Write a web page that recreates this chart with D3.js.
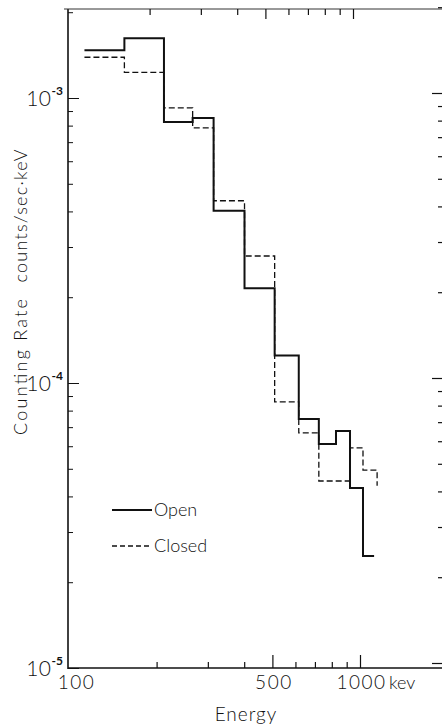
<!DOCTYPE html>
<html>
<head>
<meta charset="utf-8">
<script src="https://cdn.jsdelivr.net/npm/d3@7"></script>
<style>
  html, body { margin: 0; padding: 0; background: #fff; }
  svg { display: block; }
  text { font-family: Lato, "Open Sans", "DejaVu Sans", sans-serif; fill: #111; }
</style>
</head>
<body>
<svg id="chart" width="442" height="727"></svg>
<script>
// ---- data ----
const energyEdges = [113, 155, 212, 266, 314, 401, 509, 616, 722, 827, 924, 1024]; // keV, left edge of each bin
const openRate   = [1.47e-3, 1.62e-3, 8.24e-4, 8.51e-4, 4.02e-4, 2.15e-4, 1.25e-4, 7.48e-5, 6.11e-5, 6.79e-5, 4.28e-5, 2.47e-5];
const closedRate = [1.39e-3, 1.23e-3, 9.23e-4, 7.85e-4, 4.36e-4, 2.79e-4, 8.58e-5, 6.68e-5, 4.53e-5, 4.53e-5, 5.92e-5, 4.95e-5];
const openLastEdge = 1118;
const closedLastEdge = 1145;
const closedTailRate = 4.36e-5;
const xTickLabels = [100, 500, 1000];
const xMinorTicks = [200, 300, 400, 600, 700, 800, 900];
const xMajorTicks = [500, 1000];
const yDecades = [1e-5, 1e-4, 1e-3];
const yLabelExponents = ["-5", "-4", "-3"];
const seriesNames = ["Open", "Closed"];

// ---- layout ----
const svg = d3.select("#chart");
const X0 = 68, XR = 443, YT = 9, YB = 668;
const x = d3.scaleLog().domain([100, 1000]).range([69, 360]);
const y = d3.scaleLog().domain([1e-5, 1e-3]).range([668, 98]);

const yMinor = [];
yDecades.forEach(d => { for (let m = 2; m <= 9; m++) { const v = m * d; if (v <= 2.05e-3) yMinor.push(v); } });

function styleAxis(g, w) {
  g.select(".domain").remove();
  g.selectAll("line").attr("stroke", "#111").attr("stroke-width", w);
}

// frame lines
svg.append("line").attr("x1", X0).attr("x2", X0).attr("y1", YT).attr("y2", YB + 1)
  .attr("stroke", "#111").attr("stroke-width", 1.6);
svg.append("line").attr("x1", X0).attr("x2", 442).attr("y1", YB).attr("y2", YB)
  .attr("stroke", "#111").attr("stroke-width", 1.6);
svg.append("line").attr("x1", X0 - 4).attr("x2", 442).attr("y1", YT).attr("y2", YT)
  .attr("stroke", "#333").attr("stroke-width", 1);

// left ticks (inward)
svg.append("g").attr("transform", `translate(${X0},0)`)
  .call(d3.axisRight(y).tickValues(yMinor).tickSize(5).tickFormat(""))
  .call(g => styleAxis(g, 1));
svg.append("g").attr("transform", `translate(${X0},0)`)
  .call(d3.axisRight(y).tickValues(yDecades).tickSize(11).tickFormat(""))
  .call(g => styleAxis(g, 1));

// right ticks (inward, slightly shifted like the scan)
svg.append("g").attr("transform", `translate(${XR},-5)`)
  .call(d3.axisLeft(y).tickValues(yMinor.filter(v => String(v).indexOf("5") !== 0)).tickSize(5).tickFormat(""))
  .call(g => styleAxis(g, 1.2));
svg.append("g").attr("transform", `translate(${XR},-5)`)
  .call(d3.axisLeft(y).tickValues(yMinor.filter(v => String(v).indexOf("5") === 0)).tickSize(8).tickFormat(""))
  .call(g => styleAxis(g, 1.2));
svg.append("g").attr("transform", `translate(${XR},-5)`)
  .call(d3.axisLeft(y).tickValues(yDecades).tickSize(11).tickFormat(""))
  .call(g => styleAxis(g, 1.2));

// bottom ticks (inward)
svg.append("g").attr("transform", `translate(0,${YB})`)
  .call(d3.axisTop(x).tickValues(xMinorTicks).tickSize(6).tickFormat(""))
  .call(g => styleAxis(g, 1.2));
svg.append("g").attr("transform", `translate(0,${YB})`)
  .call(d3.axisTop(x).tickValues(xMajorTicks).tickSize(13).tickFormat(""))
  .call(g => styleAxis(g, 1.2));

// top ticks (inward, shifted like the scan)
svg.append("g").attr("transform", `translate(-7,${YT})`)
  .call(d3.axisBottom(x).tickValues(xMinorTicks).tickSize(6).tickFormat(""))
  .call(g => styleAxis(g, 1.2));
svg.append("g").attr("transform", `translate(-7,${YT})`)
  .call(d3.axisBottom(x).tickValues(xMajorTicks).tickSize(10).tickFormat(""))
  .call(g => styleAxis(g, 1.2));

// x tick labels
const xl = svg.append("g").attr("transform", `translate(0,${YB})`)
  .call(d3.axisBottom(x).tickValues(xTickLabels).tickSize(0).tickPadding(0).tickFormat(d3.format("d")));
xl.select(".domain").remove();
xl.selectAll("text")
  .attr("font-family", "Lato, 'Open Sans', sans-serif")
  .attr("font-size", 19).attr("font-weight", 300)
  .attr("letter-spacing", 1.5)
  .attr("fill", "#111")
  .attr("dy", 21)
  .attr("dx", d => d === 100 ? 7 : 1);
svg.append("text").attr("x", 389).attr("y", YB + 21)
  .attr("font-size", 18).attr("font-weight", 300).text("kev");

// y decade labels
yDecades.forEach((d, i) => {
  const t = svg.append("text")
    .attr("x", 63).attr("y", y(d) + 8)
    .attr("text-anchor", "end")
    .attr("font-size", 21).attr("font-weight", 300);
  t.append("tspan").text("10").attr("letter-spacing", 0.5);
  t.append("tspan").text(yLabelExponents[i]).attr("font-size", 12).attr("font-weight", 700).attr("dy", -11);
});

// axis titles
svg.append("text").attr("x", 246).attr("y", 721)
  .attr("text-anchor", "middle").attr("font-size", 19).attr("font-weight", 300)
  .attr("letter-spacing", 1).text("Energy");
svg.append("text").attr("transform", "translate(27,367) rotate(-90)")
  .attr("text-anchor", "middle").attr("font-size", 18).attr("font-weight", 300)
  .attr("textLength", 136).attr("lengthAdjust", "spacing")
  .text("Counting Rate");
svg.append("text").attr("transform", "translate(27,216) rotate(-90)")
  .attr("text-anchor", "middle").attr("font-size", 18).attr("font-weight", 300)
  .attr("textLength", 133).attr("lengthAdjust", "spacing")
  .text("counts/sec\u00b7keV");

// step histograms
const line = d3.line().x(d => x(d[0])).y(d => y(d[1])).curve(d3.curveStepAfter);
const openPts = energyEdges.map((e, i) => [e, openRate[i]]).concat([[openLastEdge, openRate[openRate.length - 1]]]);
const closedPts = energyEdges.map((e, i) => [e, closedRate[i]])
  .concat([[closedLastEdge, closedRate[closedRate.length - 1]], [closedLastEdge, closedTailRate]]);

svg.append("path").attr("d", line(closedPts)).attr("fill", "none")
  .attr("stroke", "#111").attr("stroke-width", 1.3).attr("stroke-dasharray", "6,3");
svg.append("path").attr("d", line(openPts)).attr("fill", "none")
  .attr("stroke", "#111").attr("stroke-width", 2);

// legend
const lg = svg.append("g");
lg.append("line").attr("x1", 112).attr("x2", 152).attr("y1", 510).attr("y2", 510)
  .attr("stroke", "#111").attr("stroke-width", 2);
lg.append("text").attr("x", 154).attr("y", 516).attr("font-size", 18).attr("font-weight", 300).text(seriesNames[0]);
lg.append("line").attr("x1", 112).attr("x2", 152).attr("y1", 546).attr("y2", 546)
  .attr("stroke", "#111").attr("stroke-width", 1.3).attr("stroke-dasharray", "5,3");
lg.append("text").attr("x", 154).attr("y", 552).attr("font-size", 18).attr("font-weight", 300).text(seriesNames[1]);
</script>
</body>
</html>
